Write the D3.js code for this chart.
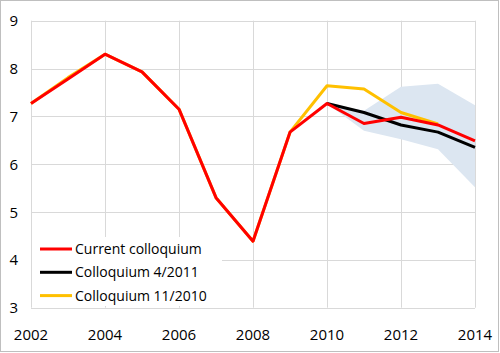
<!DOCTYPE html>
<html>
<head>
<meta charset="utf-8">
<script src="https://cdn.jsdelivr.net/npm/d3@7"></script>
<style>
  body { margin: 0; background: #fff; }
  svg { display: block; }
  text { font-family: "Open Sans", "Liberation Sans", sans-serif; fill: #000; }
</style>
</head>
<body>
<div id="chart"></div>
<script>
// values
var yearsCurrent = [2002, 2003, 2004, 2005, 2006, 2007, 2008, 2009, 2010, 2011, 2012, 2013, 2014];
var current = [7.27, 7.78, 8.30, 7.93, 7.15, 5.30, 4.39, 6.67, 7.27, 6.85, 6.98, 6.82, 6.49];

var yearsApr2011 = [2010, 2011, 2012, 2013, 2014];
var apr2011 = [7.27, 7.08, 6.82, 6.67, 6.35];

var yearsNov2010 = [2002, 2003, 2004, 2005, 2006, 2007, 2008, 2009, 2010, 2011, 2012, 2013];
var nov2010 = [7.27, 7.81, 8.30, 7.93, 7.15, 5.30, 4.39, 6.67, 7.64, 7.57, 7.08, 6.84];

var bandYears = [2010, 2011, 2012, 2013, 2014];
var bandLow = [7.27, 6.70, 6.52, 6.31, 5.52];
var bandHigh = [7.27, 7.12, 7.62, 7.68, 7.23];

var xTicks = [2002, 2004, 2006, 2008, 2010, 2012, 2014];
var yTicks = [3, 4, 5, 6, 7, 8, 9];

var seriesNames = ["Current colloquium", "Colloquium 4/2011", "Colloquium 11/2010"];
var seriesColors = ["#ff0000", "#000000", "#ffc000"];

var width = 500, height = 353;

var svg = d3.select("#chart").append("svg")
  .attr("width", width)
  .attr("height", height);

// outer frame
svg.append("rect")
  .attr("x", 0.5).attr("y", 0.5)
  .attr("width", 498).attr("height", 351)
  .attr("fill", "#fff")
  .attr("stroke", "#bfbfbf");

var x = d3.scaleLinear().domain([2002, 2014]).range([31, 475]);
var y = d3.scaleLinear().domain([3, 9]).range([307.7, 20.7]);

// grid
svg.append("g").selectAll("line.h")
  .data(yTicks).enter().append("line")
  .attr("x1", x(2002)).attr("x2", x(2014))
  .attr("y1", d => Math.round(y(d)) + 0.5).attr("y2", d => Math.round(y(d)) + 0.5)
  .attr("stroke", "#d9d9d9");
svg.append("g").selectAll("line.v")
  .data(xTicks).enter().append("line")
  .attr("y1", y(9)).attr("y2", y(3))
  .attr("x1", d => Math.round(x(d)) + 0.5).attr("x2", d => Math.round(x(d)) + 0.5)
  .attr("stroke", "#d9d9d9");

// tick labels
svg.append("g").selectAll("text")
  .data(yTicks).enter().append("text")
  .attr("x", 18).attr("y", d => y(d) + 5.5)
  .attr("text-anchor", "end")
  .style("font-size", "15px")
  .text(d => d);
svg.append("g").selectAll("text")
  .data(xTicks).enter().append("text")
  .attr("x", d => x(d)).attr("y", 340)
  .attr("text-anchor", "middle")
  .style("font-size", "15px")
  .text(d => d);

// forecast range
var area = d3.area()
  .x((d, i) => x(bandYears[i]))
  .y0((d, i) => y(bandLow[i]))
  .y1((d, i) => y(bandHigh[i]));
svg.append("path")
  .datum(bandYears)
  .attr("d", area)
  .attr("fill", "#dce6f1");

var line = d3.line()
  .x(d => x(d[0]))
  .y(d => y(d[1]))
  .curve(d3.curveLinear);

function drawSeries(years, vals, color) {
  svg.append("path")
    .datum(years.map((yr, i) => [yr, vals[i]]))
    .attr("d", line)
    .attr("fill", "none")
    .attr("stroke", color)
    .attr("stroke-width", 3)
    .attr("stroke-linejoin", "round");
}
drawSeries(yearsNov2010, nov2010, seriesColors[2]);
drawSeries(yearsApr2011, apr2011, seriesColors[1]);
drawSeries(yearsCurrent, current, seriesColors[0]);

// legend
var legend = svg.append("g");
legend.append("rect")
  .attr("x", 32).attr("y", 237)
  .attr("width", 190).attr("height", 69)
  .attr("fill", "#fff");
var rows = legend.selectAll("g.row")
  .data(seriesNames).enter().append("g")
  .attr("transform", (d, i) => "translate(0," + (249 + i * 23.3) + ")");
rows.append("line")
  .attr("x1", 40).attr("x2", 72)
  .attr("stroke", (d, i) => seriesColors[i])
  .attr("stroke-width", 3);
rows.append("text")
  .attr("x", 75).attr("y", 5)
  .style("font-size", "14px")
  .text(d => d);
</script>
</body>
</html>
